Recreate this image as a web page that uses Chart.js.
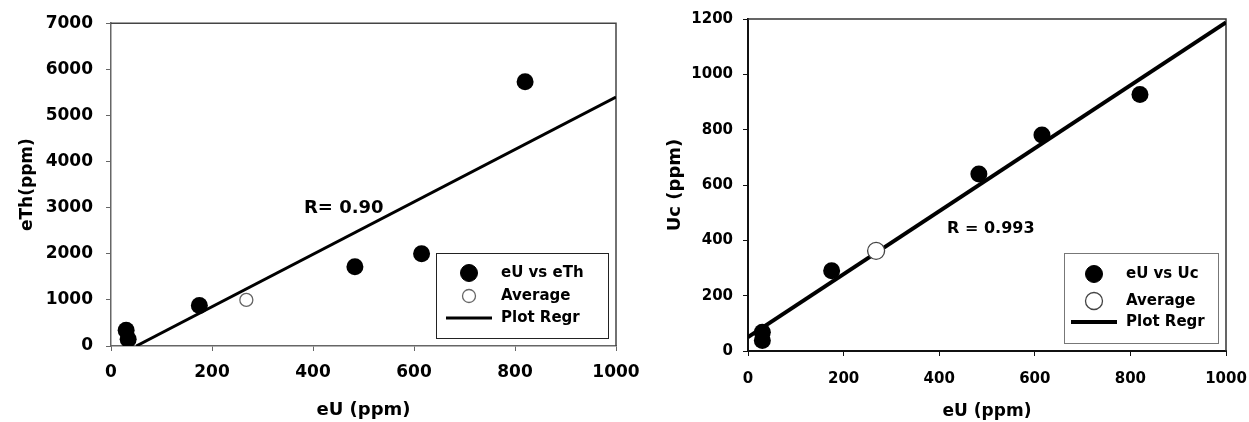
<!DOCTYPE html>
<html>
<head>
<meta charset="utf-8">
<script src="https://cdn.jsdelivr.net/npm/chart.js@4.4.1/dist/chart.umd.min.js"></script>
<style>
  body { margin: 0; background: #fff; }
  #left { position: absolute; left: 0; top: 0; }
  #right { position: absolute; left: 640px; top: 0; }
</style>
</head>
<body>
<canvas id="left" width="640" height="422"></canvas>
<canvas id="right" width="609" height="422"></canvas>
<script>
// Left chart: eU vs eTh
const thSamplesU = [30, 34, 175, 483, 615, 820];
const thSamplesTh = [340, 145, 880, 1720, 2000, 5730];
const thAverage = [268, 1000];
const thRegrU = [50, 1000];
const thRegrTh = [0, 5400];
const thLegend = ["eU vs eTh", "Average", "Plot Regr"];
const thRText = "R= 0.90";
const thRAt = [461, 2990];
const thXTicks = [0, 200, 400, 600, 800, 1000];
const thYTicks = [0, 1000, 2000, 3000, 4000, 5000, 6000, 7000];

// Right chart: eU vs Uc
const ucSamplesU = [30, 30, 175, 483, 615, 820];
const ucSamplesUc = [68, 38, 290, 640, 781, 927];
const ucAverage = [268, 362];
const ucRegrU = [0, 1000];
const ucRegrUc = [50, 1188];
const ucLegend = ["eU vs Uc", "Average", "Plot Regr"];
const ucRText = "R = 0.993";
const ucRAt = [508, 441];
const ucXTicks = [0, 200, 400, 600, 800, 1000];
const ucYTicks = [0, 200, 400, 600, 800, 1000, 1200];

const FONT = "'DejaVu Sans', 'Liberation Sans', Arial, sans-serif";

function pairs(xs, ys) {
    return xs.map((x, i) => ({ x: x, y: ys[i] }));
}

// рамка, подпись R и легенда внутри области графика
const decorPlugin = {
    id: "decor",
    beforeDatasetsDraw(chart, args, opts) {
        const a = chart.chartArea;
        const ctx = chart.ctx;
        ctx.save();
        ctx.strokeStyle = opts.frameColor;
        ctx.lineWidth = opts.frameWidth;
        ctx.beginPath();
        ctx.moveTo(a.left, a.top);
        ctx.lineTo(a.right, a.top);
        ctx.lineTo(a.right, a.bottom);
        ctx.stroke();
        ctx.restore();
    },
    afterDatasetsDraw(chart, args, opts) {
        const a = chart.chartArea;
        const ctx = chart.ctx;
        const xs = chart.scales.x, ys = chart.scales.y;
        ctx.save();
        // подпись коэффициента корреляции
        ctx.fillStyle = "#000";
        ctx.font = "bold " + opts.rFont + "px " + FONT;
        ctx.textAlign = "center";
        ctx.textBaseline = "middle";
        ctx.fillText(opts.rText, xs.getPixelForValue(opts.rAt[0]), ys.getPixelForValue(opts.rAt[1]));

        // легенда
        const lg = opts.legend;
        const bx = a.right - lg.inset - lg.w;
        const by = a.bottom - lg.inset - lg.h;
        ctx.fillStyle = "#fff";
        ctx.fillRect(bx, by, lg.w, lg.h);
        ctx.strokeStyle = lg.border;
        ctx.lineWidth = 1;
        ctx.strokeRect(bx + 0.5, by + 0.5, lg.w, lg.h);
        ctx.font = "bold " + lg.font + "px " + FONT;
        ctx.textAlign = "left";
        chart.data.datasets.forEach((ds, i) => {
            const cy = by + lg.rows[i];
            const mx = bx + lg.markerX;
            if (ds.showLine) {
                ctx.strokeStyle = ds.borderColor;
                ctx.lineWidth = ds.borderWidth;
                ctx.beginPath();
                ctx.moveTo(mx - lg.lineLen / 2, cy);
                ctx.lineTo(mx + lg.lineLen / 2, cy);
                ctx.stroke();
            } else {
                ctx.beginPath();
                ctx.arc(mx, cy, ds.pointRadius, 0, Math.PI * 2);
                ctx.fillStyle = ds.pointBackgroundColor;
                ctx.fill();
                ctx.strokeStyle = ds.pointBorderColor;
                ctx.lineWidth = ds.pointBorderWidth;
                ctx.stroke();
            }
            ctx.fillStyle = "#000";
            ctx.fillText(ds.label, bx + lg.textX, cy);
        });
        ctx.restore();
    }
};

function makeChart(canvas, s) {
    return new Chart(canvas, {
        type: "scatter",
        data: {
            datasets: [
                {
                    label: s.legend[0],
                    data: pairs(s.samplesX, s.samplesY),
                    pointRadius: 8.5,
                    pointBackgroundColor: "#000",
                    pointBorderColor: "#000",
                    pointBorderWidth: 0
                },
                {
                    label: s.legend[1],
                    data: [{ x: s.average[0], y: s.average[1] }],
                    pointRadius: s.avgRadius,
                    pointBackgroundColor: "#fff",
                    pointBorderColor: s.avgBorder,
                    pointBorderWidth: 1.3
                },
                {
                    label: s.legend[2],
                    data: pairs(s.regrX, s.regrY),
                    showLine: true,
                    pointRadius: 0,
                    borderColor: "#000",
                    borderWidth: s.regrWidth
                }
            ]
        },
        options: {
            responsive: false,
            animation: false,
            events: [],
            layout: { padding: { top: s.top, right: s.right, left: 0, bottom: 0 } },
            plugins: {
                legend: { display: false },
                tooltip: { enabled: false },
                decor: {
                    frameColor: s.frameColor,
                    frameWidth: 1.5,
                    rText: s.rText,
                    rAt: s.rAt,
                    rFont: s.rFont,
                    legend: s.legendBox
                }
            },
            scales: {
                x: {
                    type: "linear",
                    min: 0, max: 1000,
                    afterBuildTicks: (sc) => { sc.ticks = s.xTicks.map(v => ({ value: v })); },
                    afterFit: (sc) => {
                        sc.height = s.xHeight;
                        sc.paddingLeft = 0;
                        sc.paddingRight = 0;
                    },
                    border: { color: s.axisColor, width: s.axisWidth },
                    grid: { drawOnChartArea: false, drawTicks: true, tickLength: 5, color: s.axisColor, lineWidth: 1 },
                    ticks: { color: "#000", padding: s.xPad, maxRotation: 0,
                             callback: (v) => String(v),
                             font: { family: FONT, size: s.tickFont, weight: "bold" } },
                    title: { display: true, text: "eU (ppm)", color: "#000",
                             padding: { top: 0, bottom: s.xTitlePad },
                             font: { family: FONT, size: s.xTitleFont, weight: "bold" } }
                },
                y: {
                    type: "linear",
                    min: s.yTicks[0], max: s.yTicks[s.yTicks.length - 1],
                    afterBuildTicks: (sc) => { sc.ticks = s.yTicks.map(v => ({ value: v })); },
                    afterFit: (sc) => { sc.width = s.yWidth; },
                    border: { color: s.axisColor, width: s.axisWidth },
                    grid: { drawOnChartArea: false, drawTicks: true, tickLength: 5, color: s.axisColor, lineWidth: 1 },
                    ticks: { color: "#000", padding: s.yPad,
                             callback: (v) => String(v),
                             font: { family: FONT, size: s.tickFont, weight: "bold" } },
                    title: { display: true, text: s.yTitle, color: "#000",
                             padding: { top: s.yTitlePad, bottom: 0 },
                             font: { family: FONT, size: s.yTitleFont, weight: "bold" } }
                }
            }
        },
        plugins: [decorPlugin]
    });
}

makeChart(document.getElementById("left"), {
    samplesX: thSamplesU, samplesY: thSamplesTh,
    average: thAverage, avgRadius: 6.5, avgBorder: "#666",
    regrX: thRegrU, regrY: thRegrTh, regrWidth: 3,
    legend: thLegend, rText: thRText, rAt: thRAt, rFont: 18,
    xTicks: thXTicks, yTicks: thYTicks,
    yTitle: "eTh(ppm)",
    top: 23, right: 24, yWidth: 111, xHeight: 76,
    xPad: 11, yPad: 13, xTitlePad: 1, yTitlePad: 17,
    tickFont: 17, xTitleFont: 18, yTitleFont: 17,
    axisColor: "#666", axisWidth: 1.5, frameColor: "#444",
    legendBox: { w: 172, h: 85, inset: 8, markerX: 33, textX: 65, lineLen: 46,
                 rows: [20, 43, 65], font: 15, border: "#222" }
});

makeChart(document.getElementById("right"), {
    samplesX: ucSamplesU, samplesY: ucSamplesUc,
    average: ucAverage, avgRadius: 8.5, avgBorder: "#444",
    regrX: ucRegrU, regrY: ucRegrUc, regrWidth: 4,
    legend: ucLegend, rText: ucRText, rAt: ucRAt, rFont: 16,
    xTicks: ucXTicks, yTicks: ucYTicks,
    yTitle: "Uc (ppm)",
    top: 17, right: 23, yWidth: 108, xHeight: 71,
    xPad: 14, yPad: 10, xTitlePad: 0, yTitlePad: 25,
    tickFont: 15, xTitleFont: 17, yTitleFont: 18,
    axisColor: "#111", axisWidth: 2, frameColor: "#333",
    legendBox: { w: 154, h: 90, inset: 8, markerX: 30, textX: 62, lineLen: 46,
                 rows: [21, 48, 69], font: 15, border: "#777" }
});
</script>
</body>
</html>
